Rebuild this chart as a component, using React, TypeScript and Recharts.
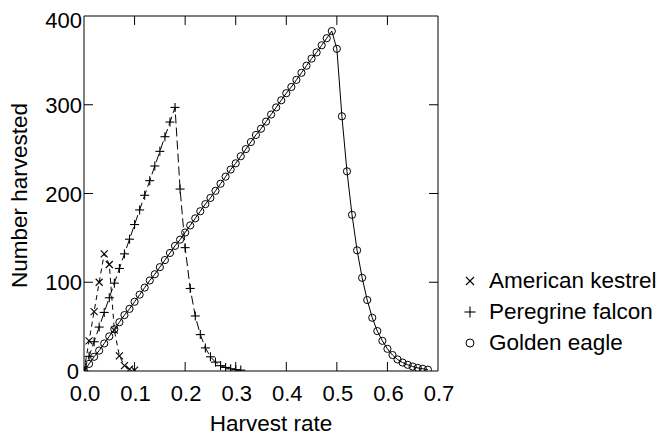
import { LineChart, Line, XAxis, YAxis, Legend } from 'recharts';

// harvest rate (x) and number harvested (y)
const kestrelRate = [0, 0.01, 0.02, 0.03, 0.04, 0.05, 0.06, 0.07, 0.08, 0.09, 0.1];
const kestrelHarvest = [0, 34, 67, 100, 132, 120, 46, 17, 6, 2, 1];

const falconRate = [
  0, 0.01, 0.02, 0.03, 0.04, 0.05, 0.06, 0.07, 0.08, 0.09, 0.1, 0.11, 0.12, 0.13, 0.14, 0.15,
  0.16, 0.17, 0.18, 0.19, 0.2, 0.21, 0.22, 0.23, 0.24, 0.25, 0.26, 0.27, 0.28, 0.29, 0.3, 0.31,
];
const falconHarvest = [
  0, 16.5, 33, 49.5, 66, 82.5, 99, 115.5, 132, 148.5, 165, 181.5, 198, 214.5, 231, 247.5,
  264, 280.5, 297, 205, 139, 93, 62, 41, 26, 16, 10, 6, 4, 2.5, 1.5, 1,
];

const eagleRate = [
  0, 0.01, 0.02, 0.03, 0.04, 0.05, 0.06, 0.07, 0.08, 0.09, 0.1, 0.11, 0.12, 0.13, 0.14, 0.15,
  0.16, 0.17, 0.18, 0.19, 0.2, 0.21, 0.22, 0.23, 0.24, 0.25, 0.26, 0.27, 0.28, 0.29, 0.3, 0.31,
  0.32, 0.33, 0.34, 0.35, 0.36, 0.37, 0.38, 0.39, 0.4, 0.41, 0.42, 0.43, 0.44, 0.45, 0.46, 0.47,
  0.48, 0.49, 0.5, 0.51, 0.52, 0.53, 0.54, 0.55, 0.56, 0.57, 0.58, 0.59, 0.6, 0.61, 0.62, 0.63,
  0.64, 0.65, 0.66, 0.67, 0.68,
];
const eagleHarvest = [
  0, 8, 16, 23, 31, 39, 47, 55, 63, 70, 78, 86, 94, 102, 109, 117,
  125, 133, 141, 148, 156, 164, 172, 180, 188, 195, 203, 211, 219, 227, 234, 242,
  250, 258, 266, 273, 281, 289, 297, 305, 313, 320, 328, 336, 344, 352, 359, 367,
  375, 383, 363, 287, 225, 176, 136, 105, 80, 60, 45, 34, 25, 18, 13, 9.5,
  7, 5, 3.5, 2.5, 1.5,
];

const xTicks = [0, 0.1, 0.2, 0.3, 0.4, 0.5, 0.6, 0.7];
const yTicks = [0, 100, 200, 300, 400];

const seriesNames = ['American kestrel', 'Peregrine falcon', 'Golden eagle'];

const FONT = '"Liberation Sans", Arial, Helvetica, sans-serif';
const TICK_LEN = 9;

const toRows = (rates: number[], values: number[]) =>
  rates.map((rate, i) => ({ rate, harvest: values[i] }));

const kestrelData = toRows(kestrelRate, kestrelHarvest);
const falconData = toRows(falconRate, falconHarvest);
const eagleData = toRows(eagleRate, eagleHarvest);

/* ---------- markers ---------- */
function CrossX({ cx, cy, s = 3.5 }: { cx: number; cy: number; s?: number }) {
  return (
    <g stroke="#000" strokeWidth={1.1} fill="none">
      <line x1={cx - s} y1={cy - s} x2={cx + s} y2={cy + s} />
      <line x1={cx - s} y1={cy + s} x2={cx + s} y2={cy - s} />
    </g>
  );
}

function Plus({ cx, cy, s = 4.5 }: { cx: number; cy: number; s?: number }) {
  return (
    <g stroke="#000" strokeWidth={1.1} fill="none">
      <line x1={cx - s} y1={cy} x2={cx + s} y2={cy} />
      <line x1={cx} y1={cy - s} x2={cx} y2={cy + s} />
    </g>
  );
}

function Ring({ cx, cy, r = 3.6 }: { cx: number; cy: number; r?: number }) {
  return <circle cx={cx} cy={cy} r={r} stroke="#000" strokeWidth={1} fill="none" />;
}

/* ---------- inward ticks ---------- */
function BottomTick(props: any) {
  const { x, y, payload } = props;
  const v = payload.value as number;
  const inner = v > 0.001 && v < 0.699;
  return (
    <g>
      {inner && <line x1={x} y1={y} x2={x} y2={y - TICK_LEN} stroke="#000" />}
      <text x={x + 1} y={y + 30} textAnchor="middle" fontSize={22} fontFamily={FONT} fill="#000">
        {v.toFixed(1)}
      </text>
    </g>
  );
}

function TopTick(props: any) {
  const { x, y, payload } = props;
  const v = payload.value as number;
  if (v < 0.001 || v > 0.699) return <g />;
  return <line x1={x} y1={y} x2={x} y2={y + TICK_LEN} stroke="#000" />;
}

function LeftTick(props: any) {
  const { x, y, payload } = props;
  const v = payload.value as number;
  const inner = v > 0 && v < 400;
  // top label sits a little lower in the original, bottom one a touch left
  const dy = v === 400 ? 12 : 8;
  const dx = v === 0 ? -5 : -2;
  return (
    <g>
      {inner && <line x1={x} y1={y} x2={x + TICK_LEN} y2={y} stroke="#000" />}
      <text x={x + dx} y={y + dy} textAnchor="end" fontSize={22} fontFamily={FONT} fill="#000">
        {v}
      </text>
    </g>
  );
}

function RightTick(props: any) {
  const { x, y, payload } = props;
  const v = payload.value as number;
  if (v <= 0 || v >= 400) return <g />;
  return <line x1={x} y1={y} x2={x - TICK_LEN} y2={y} stroke="#000" />;
}

/* ---------- axis titles ---------- */
function XTitle(props: any) {
  const vb = props.viewBox;
  return (
    <text
      x={vb.x + vb.width / 2 + 10}
      y={vb.y + 60}
      textAnchor="middle"
      fontSize={22.5}
      fontFamily={FONT}
      fill="#000"
    >
      Harvest rate
    </text>
  );
}

function YTitle(props: any) {
  const vb = props.viewBox;
  const cx = vb.x + 27;
  const cy = vb.y + vb.height / 2 + 2;
  return (
    <text
      x={cx}
      y={cy}
      transform={`rotate(-90 ${cx} ${cy})`}
      textAnchor="middle"
      fontSize={22.5}
      fontFamily={FONT}
      fill="#000"
    >
      Number harvested
    </text>
  );
}

/* ---------- legend ---------- */
function LegendBox() {
  const icons = [
    <CrossX cx={10} cy={10} s={4} />,
    <Plus cx={10} cy={10} s={5.5} />,
    <Ring cx={10} cy={10} r={4} />,
  ];
  return (
    <div style={{ fontFamily: FONT, fontSize: 22.5, color: '#000' }}>
      {seriesNames.map((name, i) => (
        <div key={name} style={{ display: 'flex', alignItems: 'center', height: 31 }}>
          <svg width={20} height={20}>{icons[i]}</svg>
          <span style={{ marginLeft: 9, whiteSpace: 'nowrap' }}>{name}</span>
        </div>
      ))}
    </div>
  );
}

export default function App() {
  return (
    <div style={{ position: 'absolute', left: 0, top: 0, width: 664, height: 436, background: '#fff' }}>
      <LineChart width={664} height={436} margin={{ top: 15, right: 225, bottom: 0, left: 0 }}>
        <XAxis
          xAxisId="b"
          type="number"
          dataKey="rate"
          domain={[0, 0.7]}
          ticks={xTicks}
          interval={0}
          allowDataOverflow
          orientation="bottom"
          height={65}
          axisLine={{ stroke: '#000' }}
          tickLine={false}
          tickSize={0}
          tickMargin={0}
          tick={BottomTick}
          label={XTitle}
        />
        <XAxis
          xAxisId="t"
          type="number"
          dataKey="rate"
          domain={[0, 0.7]}
          ticks={xTicks}
          interval={0}
          allowDataOverflow
          orientation="top"
          height={1}
          axisLine={{ stroke: '#000' }}
          tickLine={false}
          tickSize={0}
          tickMargin={0}
          tick={TopTick}
        />
        <YAxis
          yAxisId="l"
          type="number"
          domain={[0, 400]}
          ticks={yTicks}
          interval={0}
          allowDataOverflow
          width={84}
          axisLine={{ stroke: '#000' }}
          tickLine={false}
          tickSize={0}
          tickMargin={0}
          tick={LeftTick}
          label={YTitle}
        />
        <YAxis
          yAxisId="r"
          type="number"
          orientation="right"
          domain={[0, 400]}
          ticks={yTicks}
          interval={0}
          allowDataOverflow
          width={1}
          axisLine={{ stroke: '#000' }}
          tickLine={false}
          tickSize={0}
          tickMargin={0}
          tick={RightTick}
        />

        <Line
          xAxisId="b"
          yAxisId="l"
          data={eagleData}
          dataKey="harvest"
          name={seriesNames[2]}
          type="linear"
          stroke="#000"
          strokeWidth={1}
          dot={(p: any) => <Ring key={`e${p.index}`} cx={p.cx} cy={p.cy} />}
          activeDot={false}
          isAnimationActive={false}
        />
        <Line
          xAxisId="b"
          yAxisId="l"
          data={falconData}
          dataKey="harvest"
          name={seriesNames[1]}
          type="linear"
          stroke="#000"
          strokeWidth={1}
          strokeDasharray="9 4"
          dot={(p: any) => <Plus key={`f${p.index}`} cx={p.cx} cy={p.cy} />}
          activeDot={false}
          isAnimationActive={false}
        />
        <Line
          xAxisId="b"
          yAxisId="l"
          data={kestrelData}
          dataKey="harvest"
          name={seriesNames[0]}
          type="linear"
          stroke="#000"
          strokeWidth={1}
          strokeDasharray="5 4"
          dot={(p: any) => <CrossX key={`k${p.index}`} cx={p.cx} cy={p.cy} />}
          activeDot={false}
          isAnimationActive={false}
        />

        <Legend
          layout="vertical"
          align="center"
          verticalAlign="middle"
          wrapperStyle={{ left: 460, top: 265, width: 204 }}
          content={() => <LegendBox />}
        />
      </LineChart>
    </div>
  );
}
